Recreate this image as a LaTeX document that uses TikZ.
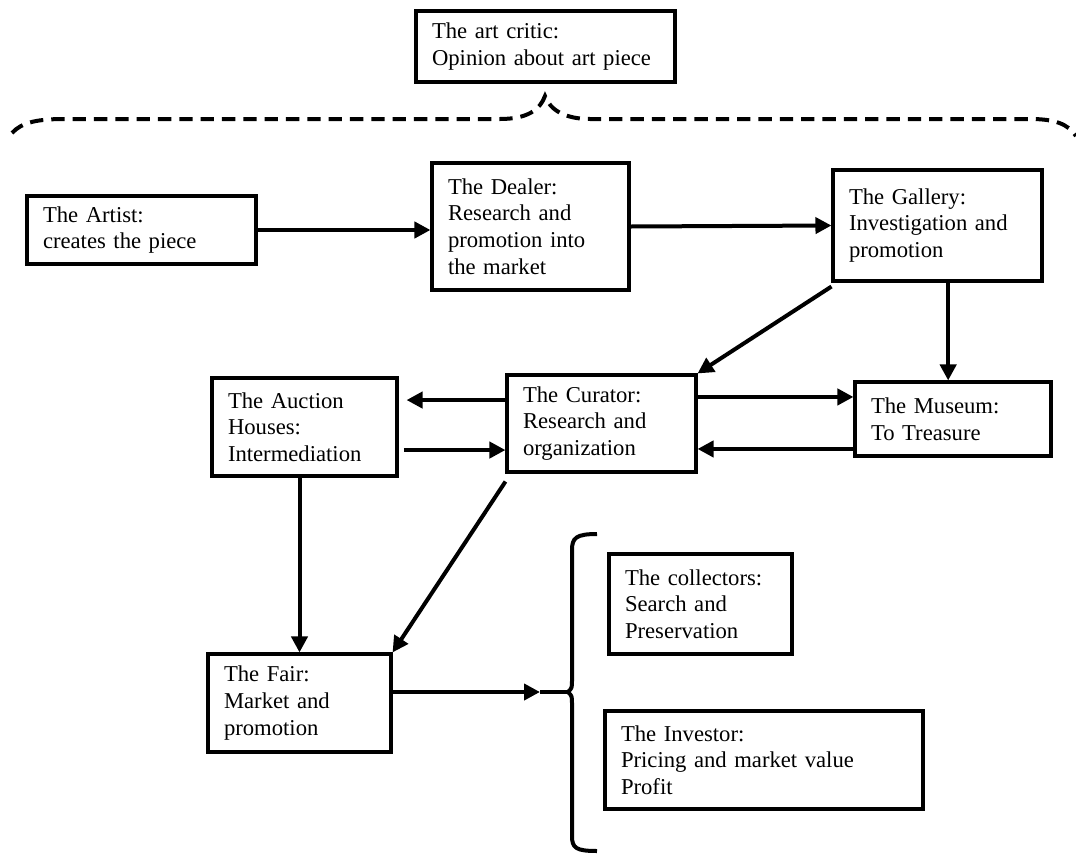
\documentclass[tikz,border=0pt]{standalone}
\usepackage{fontspec}
\setmainfont{Liberation Serif}
\usetikzlibrary{arrows.meta}

\tikzset{
    caja/.style={draw, line width=2.3pt, align=left, inner xsep=12pt, inner ysep=0pt,
        font=\fontsize{17}{20}\selectfont},
    flecha/.style={line width=3pt, -{Triangle[length=12pt,width=12pt]}},
    llave/.style={line width=3pt},
}

\begin{document}
\begin{tikzpicture}[x=0.75pt,y=-0.75pt]
    \useasboundingbox (0,0) rectangle (1076,854);

    % arriba: el critico
    \node[caja, text width=170.25pt, minimum height=53.25pt] (critic) at (545.5,46.5)
        {The art critic:\\Opinion~about~art~piece};

    % llave discontinua
    \draw[llave, dash pattern=on 10pt off 6pt]
        (12,133) .. controls (22,122) and (38,119) .. (65,119) -- (500,119)
        .. controls (527,119) and (540,110) .. (545,96)
        .. controls (550,110) and (565,119) .. (590,119) -- (1030,119)
        .. controls (1055,119) and (1068,124) .. (1076,136);

    % primera fila
    \node[caja, text width=147.75pt, minimum height=51pt] (artist) at (141.5,230)
        {The Artist:\\creates the piece};
    \node[caja, text width=123.75pt, minimum height=95.25pt] (dealer) at (530.5,226.5)
        {The Dealer:\\Research and\\promotion~into\\the market};
    \node[caja, text width=132.75pt, minimum height=83.25pt] (gallery) at (937.5,225.5)
        {The Gallery:\\Investigation~and\\promotion};

    % fila central
    \node[caja, text width=114.75pt, minimum height=73.5pt] (auction) at (304.5,427)
        {The Auction\\Houses:\\Intermediation};
    \node[caja, text width=117.75pt, minimum height=72.75pt] (curator) at (601.5,423.5)
        {The Curator:\\Research and\\organization};
    \node[caja, text width=123pt, minimum height=55.5pt] (museum) at (953,419)
        {The Museum:\\To Treasure};

    % abajo
    \node[caja, text width=113.25pt, minimum height=73.5pt] (fair) at (299.5,703)
        {The Fair:\\Market and\\promotion};
    \node[caja, text width=113.25pt, minimum height=75pt] (collectors) at (700.5,604)
        {The~collectors:\\Search and\\Preservation};
    \node[caja, text width=214.5pt, minimum height=73.5pt] (investor) at (764,760)
        {The Investor:\\Pricing and market value\\Profit};

    % flechas
    \draw[flecha] (artist) -- (artist -| dealer.west);
    \draw[flecha] (dealer.east) -- (gallery.west);
    \draw[flecha] ([yshift=-3pt]gallery.south west) -- (curator.north east);
    \draw[flecha] ([xshift=8pt]gallery.south) -- ([xshift=8pt]gallery.south |- museum.north);

    \draw[flecha, shorten >=6pt] ([yshift=17.6pt]curator.west) -- ([yshift=17.6pt]curator.west -| auction.east);
    \draw[flecha, shorten <=4pt] ([yshift=-19.9pt]curator.west -| auction.east) -- ([yshift=-19.9pt]curator.west);
    \draw[flecha] ([yshift=19.9pt]curator.east) -- ([yshift=19.9pt]curator.east -| museum.west);
    \draw[flecha] ([yshift=-19.1pt]curator.east -| museum.west) -- ([yshift=-19.1pt]curator.east);

    \draw[flecha] (auction.south -| fair.north) -- (fair.north);
    \draw[flecha] ([yshift=-6pt]curator.south west) -- (fair.north east);

    % llave derecha
    \coordinate (medio) at (540,692);
    \coordinate (punta) at (568,692);
    \draw[flecha] ([yshift=8.25pt]fair.east) -- (medio);
    \draw[llave] (medio) -- (punta);
    \draw[llave] (597,534) .. controls (576,534) and (572,538) .. (572,550) -- (572,680)
        .. controls (572,688) .. (punta) .. controls (572,696) .. (572,704) -- (572,836)
        .. controls (572,848) and (576,851) .. (597,851);

\end{tikzpicture}
\end{document}
